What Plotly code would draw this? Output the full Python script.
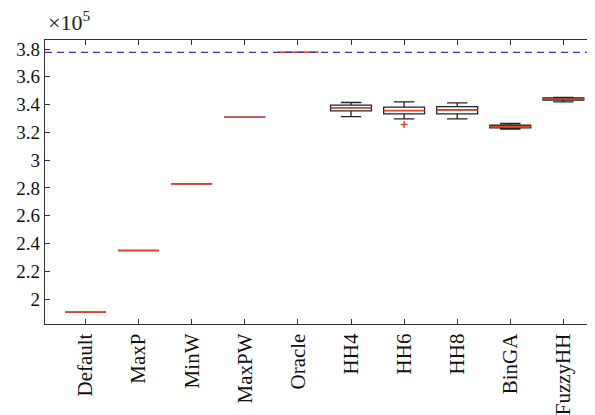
import plotly.graph_objects as go

# ---- data (values in units of 1e5) ----
categories = ["Default", "MaxP", "MinW", "MaxPW", "Oracle", "HH4", "HH6", "HH8", "BinGA", "FuzzyHH"]
lower_whisker = [1.907, 2.350, 2.829, 3.309, 3.776, 3.314, 3.298, 3.298, 3.224, 3.420]
q1_values     = [1.907, 2.350, 2.829, 3.309, 3.776, 3.355, 3.334, 3.334, 3.233, 3.432]
medians       = [1.907, 2.350, 2.829, 3.309, 3.776, 3.377, 3.357, 3.362, 3.243, 3.441]
q3_values     = [1.907, 2.350, 2.829, 3.309, 3.776, 3.396, 3.382, 3.386, 3.253, 3.448]
upper_whisker = [1.907, 2.350, 2.829, 3.309, 3.776, 3.415, 3.420, 3.413, 3.264, 3.451]
outlier_cats  = ["HH6"]
outlier_vals  = [3.257]
oracle_ref    = 3.776
y_ticks       = [2.0, 2.2, 2.4, 2.6, 2.8, 3.0, 3.2, 3.4, 3.6, 3.8]
y_ticklabels  = ["2", "2.2", "2.4", "2.6", "2.8", "3", "3.2", "3.4", "3.6", "3.8"]

positions = list(range(1, len(categories) + 1))
box_w = 0.77
FONT = "Liberation Serif"
RED = "#e8492c"
AX = "#333333"

fig = go.Figure()

fig.add_trace(go.Box(
    x=positions, q1=q1_values, median=medians, q3=q3_values,
    lowerfence=lower_whisker, upperfence=upper_whisker,
    width=box_w, whiskerwidth=0.5, boxpoints=False,
    line=dict(color="#222222", width=1.3), fillcolor="rgba(255,255,255,0)",
    showlegend=False, hoverinfo="skip",
))

mx, my = [], []
for p, m in zip(positions, medians):
    mx += [p - box_w / 2, p + box_w / 2, None]
    my += [m, m, None]
fig.add_trace(go.Scatter(x=mx, y=my, mode="lines", line=dict(color=RED, width=1.5),
                         showlegend=False, hoverinfo="skip"))

fig.add_trace(go.Scatter(
    x=[positions[categories.index(c)] for c in outlier_cats], y=outlier_vals,
    mode="markers", marker=dict(symbol="cross-thin", size=5, line=dict(color=RED, width=1.5)),
    showlegend=False, hoverinfo="skip"))

fig.add_shape(type="line", xref="paper", x0=0, x1=1, yref="y", y0=oracle_ref, y1=oracle_ref,
              line=dict(color="#3a3ab0", width=1.3, dash="7px,5px"))

fig.add_annotation(text="×10<sup>5</sup>", xref="paper", yref="paper", x=0, y=1,
                   xanchor="left", yanchor="bottom", yshift=3, xshift=1, showarrow=False,
                   font=dict(family=FONT, size=22, color="#222"))

# page body has an 8px default margin; figure is sized to end at the window edge
fig.update_layout(
    width=587, height=407,
    margin=dict(l=37, r=0, t=32, b=91, autoexpand=False),
    plot_bgcolor="white", paper_bgcolor="white",
    xaxis=dict(range=[0.237, 10.595], tickvals=positions, ticktext=categories,
               tickangle=-90, ticks="inside", ticklen=5, tickcolor=AX, tickwidth=1.2,
               showline=True, linecolor=AX, linewidth=1.3, mirror="ticks",
               showgrid=False, zeroline=False, automargin=False,
               tickfont=dict(family=FONT, size=21, color="#111")),
    yaxis=dict(range=[1.821, 3.865], tickvals=y_ticks, ticktext=y_ticklabels,
               ticks="inside", ticklen=5, tickcolor=AX, tickwidth=1.2,
               showline=True, linecolor=AX, linewidth=1.3, mirror=False,
               showgrid=False, zeroline=False, automargin=False,
               tickfont=dict(family=FONT, size=19, color="#111")),
)

fig.write_html("out.html")
